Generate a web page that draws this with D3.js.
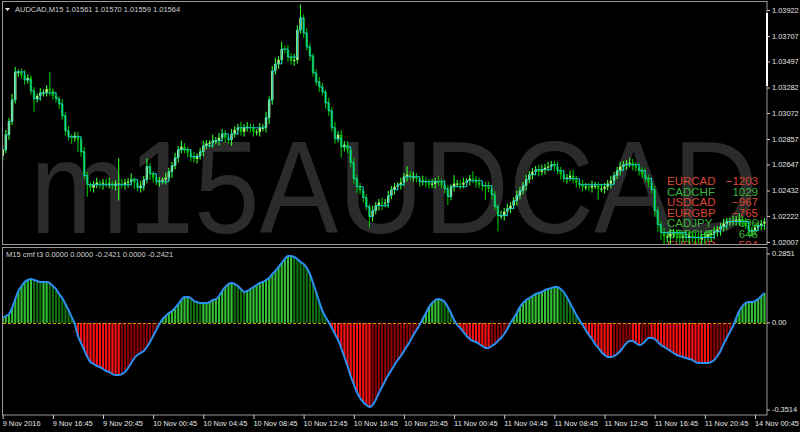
<!DOCTYPE html>
<html>
<head>
<meta charset="utf-8">
<style>
  body { margin: 0; background: #000; }
  svg { display: block; }
  text { font-family: 'Liberation Sans', Arial, sans-serif; }
</style>
<script src="https://cdn.jsdelivr.net/npm/d3@7"></script>
</head>
<body>
<div id="chart"></div>
<script>
// AUDCAD M15 bars, 9 Nov 12:45 .. 14 Nov 00:45+
const firstOpen = 1.0272
const closes = [
  1.02769, 1.02892, 1.03003, 1.03180, 1.03411, 1.03411, 1.03386, 1.03345, 1.03362, 1.03254,
  1.03189, 1.03213, 1.03238, 1.03238, 1.03271, 1.03254, 1.03213, 1.03189, 1.03147, 1.03049,
  1.02925, 1.02876, 1.02867, 1.02884, 1.02851, 1.02752, 1.02555, 1.02480, 1.02456, 1.02480,
  1.02497, 1.02489, 1.02497, 1.02489, 1.02489, 1.02472, 1.02489, 1.02489, 1.02480, 1.02497,
  1.02505, 1.02522, 1.02497, 1.02456, 1.02472, 1.02522, 1.02629, 1.02571, 1.02538, 1.02505,
  1.02513, 1.02522, 1.02538, 1.02587, 1.02637, 1.02703, 1.02769, 1.02793, 1.02769, 1.02744,
  1.02711, 1.02694, 1.02719, 1.02752, 1.02802, 1.02818, 1.02826, 1.02843, 1.02843, 1.02867,
  1.02900, 1.02867, 1.02851, 1.02900, 1.02933, 1.02950, 1.02917, 1.02950, 1.02958, 1.02950,
  1.02917, 1.02917, 1.02950, 1.02950, 1.03032, 1.03180, 1.03419, 1.03477, 1.03510, 1.03600,
  1.03592, 1.03534, 1.03502, 1.03510, 1.03757, 1.03856, 1.03732, 1.03617, 1.03543, 1.03403,
  1.03329, 1.03287, 1.03246, 1.03156, 1.03090, 1.02950, 1.02859, 1.02892, 1.02793, 1.02810,
  1.02769, 1.02662, 1.02530, 1.02464, 1.02431, 1.02373, 1.02299, 1.02217, 1.02266, 1.02307,
  1.02332, 1.02324, 1.02332, 1.02390, 1.02439, 1.02464, 1.02480, 1.02497, 1.02546, 1.02563,
  1.02546, 1.02546, 1.02530, 1.02505, 1.02513, 1.02497, 1.02480, 1.02489, 1.02505, 1.02497,
  1.02480, 1.02447, 1.02382, 1.02464, 1.02489, 1.02489, 1.02480, 1.02497, 1.02513, 1.02530,
  1.02522, 1.02497, 1.02480, 1.02472, 1.02464, 1.02447, 1.02398, 1.02299, 1.02225, 1.02225,
  1.02258, 1.02283, 1.02307, 1.02349, 1.02390, 1.02431, 1.02472, 1.02522, 1.02563, 1.02587,
  1.02604, 1.02587, 1.02604, 1.02620, 1.02629, 1.02645, 1.02629, 1.02596, 1.02563, 1.02530,
  1.02538, 1.02555, 1.02522, 1.02497, 1.02480, 1.02464, 1.02464, 1.02456, 1.02472, 1.02472,
  1.02447, 1.02447, 1.02464, 1.02489, 1.02513, 1.02555, 1.02596, 1.02629, 1.02645, 1.02653,
  1.02662, 1.02637, 1.02620, 1.02596, 1.02563, 1.02530, 1.02497, 1.02439, 1.02266, 1.02151,
  1.02085, 1.02052, 1.02052, 1.02077, 1.02085, 1.02069, 1.02052, 1.02052, 1.02044, 1.02060,
  1.02052, 1.02036, 1.02027, 1.02044, 1.02052, 1.02069, 1.02077, 1.02093, 1.02110, 1.02134,
  1.02159, 1.02176, 1.02176, 1.02184, 1.02192, 1.02192, 1.02176, 1.02143, 1.02102, 1.02102,
  1.02126, 1.02143, 1.02159, 1.02176
]
// wick lengths above / below the body, in pips
const upWicks = [
  3, 4, 3, 5, 4, 2, 3, 4, 3, 2,
  3, 2, 4, 3, 3, 14, 2, 3, 2, 4,
  3, 4, 2, 3, 3, 2, 4, 3, 2, 3,
  4, 2, 3, 3, 5, 2, 3, 21, 4, 3,
  3, 5, 2, 3, 4, 3, 7, 3, 2, 3,
  3, 2, 4, 3, 3, 4, 3, 5, 3, 2,
  3, 4, 2, 3, 4, 3, 2, 5, 3, 4,
  4, 3, 2, 4, 3, 3, 5, 3, 4, 3,
  3, 2, 4, 3, 5, 3, 4, 5, 3, 6,
  3, 4, 3, 5, 4, 11, 3, 4, 3, 2,
  3, 4, 3, 2, 4, 3, 5, 3, 4, 3,
  3, 2, 4, 3, 3, 2, 3, 2, 4, 3,
  3, 4, 3, 4, 3, 3, 2, 4, 3, 7,
  3, 4, 3, 2, 4, 3, 3, 4, 3, 5,
  3, 4, 3, 2, 7, 3, 3, 4, 2, 3,
  6, 3, 4, 3, 3, 4, 3, 3, 2, 4,
  3, 4, 3, 3, 4, 3, 3, 4, 3, 3,
  3, 4, 4, 3, 4, 3, 3, 4, 3, 3,
  3, 4, 5, 3, 3, 4, 3, 3, 4, 3,
  3, 4, 3, 3, 4, 3, 3, 4, 3, 3,
  4, 3, 3, 4, 3, 5, 3, 4, 3, 3,
  3, 4, 3, 4, 3, 3, 4, 3, 5, 3,
  3, 4, 5, 3, 4, 3, 3, 4, 3, 3,
  4, 3, 3, 4, 3, 5, 3, 3, 4, 3,
  3, 4, 3, 3
]
const downWicks = [
  4, 3, 4, 3, 3, 4, 3, 4, 3, 3,
  11, 3, 4, 3, 3, 4, 3, 3, 4, 3,
  4, 3, 5, 3, 10, 4, 3, 10, 3, 4,
  3, 4, 5, 3, 4, 3, 4, 14, 3, 4,
  4, 3, 5, 3, 4, 4, 3, 5, 4, 3,
  4, 3, 4, 3, 5, 3, 4, 3, 3, 4,
  4, 3, 4, 3, 4, 3, 3, 4, 3, 4,
  3, 4, 3, 5, 3, 4, 3, 4, 3, 4,
  4, 3, 4, 3, 4, 5, 4, 3, 4, 3,
  3, 4, 3, 4, 3, 3, 4, 3, 4, 3,
  3, 4, 3, 5, 4, 3, 4, 3, 9, 4,
  3, 4, 4, 5, 3, 4, 3, 9, 4, 3,
  4, 5, 3, 4, 3, 4, 3, 4, 3, 4,
  3, 4, 3, 4, 3, 4, 3, 3, 4, 3,
  3, 4, 7, 3, 4, 3, 4, 3, 3, 4,
  3, 4, 3, 4, 11, 3, 4, 3, 13, 3,
  4, 3, 4, 3, 4, 3, 3, 4, 3, 4,
  3, 4, 3, 4, 3, 3, 4, 3, 4, 3,
  4, 3, 3, 4, 3, 4, 3, 3, 4, 3,
  9, 3, 4, 3, 4, 3, 3, 4, 3, 4,
  3, 4, 3, 4, 3, 3, 4, 3, 5, 6,
  6, 8, 5, 7, 4, 6, 8, 5, 4, 6,
  5, 7, 4, 6, 5, 4, 6, 5, 4, 5,
  4, 5, 4, 3, 4, 5, 4, 3, 4, 5,
  4, 3, 4, 5
]
// cmf t3 oscillator, one value per bar
const cmf = [
  0.0189, 0.0266, 0.0343, 0.0575, 0.0922, 0.1231, 0.1424, 0.1578, 0.1655, 0.1694,
  0.1655, 0.1617, 0.1578, 0.1578, 0.1578, 0.1539, 0.1424, 0.1308, 0.1115, 0.0961,
  0.0729, 0.0498, 0.0228, -0.0042, -0.0505, -0.0775, -0.1046, -0.1316, -0.1508, -0.1586,
  -0.1663, -0.1701, -0.1779, -0.1856, -0.1894, -0.1971, -0.2010, -0.2010, -0.1971, -0.1894,
  -0.1740, -0.1547, -0.1354, -0.1238, -0.1161, -0.1084, -0.0930, -0.0737, -0.0505, -0.0274,
  -0.0042, 0.0150, 0.0266, 0.0382, 0.0459, 0.0575, 0.0729, 0.0883, 0.0999, 0.0999,
  0.0961, 0.0845, 0.0806, 0.0768, 0.0768, 0.0768, 0.0806, 0.0883, 0.0922, 0.1038,
  0.1231, 0.1385, 0.1501, 0.1539, 0.1501, 0.1424, 0.1308, 0.1192, 0.1231, 0.1308,
  0.1385, 0.1462, 0.1539, 0.1578, 0.1655, 0.1732, 0.1887, 0.2002, 0.2157, 0.2311,
  0.2465, 0.2581, 0.2581, 0.2542, 0.2465, 0.2350, 0.2272, 0.2118, 0.1887, 0.1539,
  0.1192, 0.0806, 0.0459, 0.0228, 0.0035, -0.0197, -0.0428, -0.0660, -0.0968, -0.1316,
  -0.1663, -0.2049, -0.2357, -0.2666, -0.2897, -0.3052, -0.3167, -0.3245, -0.3167, -0.2975,
  -0.2704, -0.2473, -0.2241, -0.2010, -0.1817, -0.1624, -0.1431, -0.1277, -0.1084, -0.0891,
  -0.0698, -0.0467, -0.0274, -0.0081, 0.0150, 0.0382, 0.0613, 0.0768, 0.0883, 0.0922,
  0.0883, 0.0806, 0.0613, 0.0382, 0.0112, -0.0081, -0.0197, -0.0351, -0.0505, -0.0621,
  -0.0698, -0.0737, -0.0814, -0.0891, -0.0968, -0.0968, -0.0891, -0.0814, -0.0698, -0.0583,
  -0.0428, -0.0235, -0.0004, 0.0189, 0.0382, 0.0613, 0.0768, 0.0883, 0.0961, 0.1038,
  0.1115, 0.1154, 0.1192, 0.1269, 0.1308, 0.1346, 0.1385, 0.1385, 0.1308, 0.1192,
  0.0999, 0.0768, 0.0536, 0.0305, 0.0112, -0.0081, -0.0274, -0.0467, -0.0621, -0.0814,
  -0.0968, -0.1123, -0.1238, -0.1316, -0.1316, -0.1277, -0.1200, -0.1084, -0.0930, -0.0775,
  -0.0698, -0.0698, -0.0775, -0.0853, -0.0814, -0.0698, -0.0583, -0.0583, -0.0621, -0.0737,
  -0.0853, -0.0930, -0.1007, -0.1084, -0.1161, -0.1238, -0.1277, -0.1316, -0.1354, -0.1393,
  -0.1431, -0.1508, -0.1547, -0.1547, -0.1547, -0.1547, -0.1508, -0.1431, -0.1277, -0.1084,
  -0.0814, -0.0583, -0.0351, -0.0120, 0.0189, 0.0459, 0.0652, 0.0768, 0.0806, 0.0806,
  0.0845, 0.0922, 0.1038, 0.1154
]
const timeLabels = [
  '9 Nov 2016', '9 Nov 16:45', '9 Nov 20:45', '10 Nov 00:45', '10 Nov 04:45',
  '10 Nov 08:45', '10 Nov 12:45', '10 Nov 16:45', '10 Nov 20:45', '11 Nov 00:45',
  '11 Nov 04:45', '11 Nov 08:45', '11 Nov 12:45', '11 Nov 16:45', '11 Nov 20:45',
  '14 Nov 00:45'
]
const priceTicks = [1.03922, 1.03707, 1.03497, 1.03282, 1.03072, 1.02857, 1.02647, 1.02432, 1.02222, 1.02007]
const cmfTicks = [0.2851, 0, -0.3514]
const watchPairs = ['EURCAD', 'CADCHF', 'USDCAD', 'EURGBP', 'CADJPY', 'GBPCHF', 'EURAUD']
const watchValues = [-1203, 1029, -967, -765, 696, 646, -594]

const width = 800
const height = 432
const pip = 0.0001

const svg = d3
  .select('#chart')
  .append('svg')
  .attr('width', width)
  .attr('height', height)
  .style('background', '#000')

// scales
const xPositionScale = d3.scaleLinear().domain([0, 240]).range([2.7, 755])
const yPriceScale = d3.scaleLinear().domain([1.02007, 1.03922]).range([242, 10])
const yCmfScale = d3.scaleLinear().domain([-0.3514, 0.2851]).range([414, 249])

const defs = svg.append('defs')
defs.append('clipPath').attr('id', 'clip-top')
  .append('rect').attr('x', 3).attr('y', 3).attr('width', 764).attr('height', 241)
defs.append('clipPath').attr('id', 'clip-bottom')
  .append('rect').attr('x', 3).attr('y', 248).attr('width', 764).attr('height', 167)

// ---------- upper panel ----------
const upperPanel = svg.append('g').attr('clip-path', 'url(#clip-top)')

upperPanel.append('text')
  .attr('x', 30)
  .attr('y', 233)
  .attr('font-size', 132)
  .attr('textLength', 728)
  .attr('lengthAdjust', 'spacingAndGlyphs')
  .attr('fill', '#2b2b2b')
  .text('m15AUDCAD')

const watch = upperPanel.append('g').attr('font-size', 11.5)
watchPairs.forEach(function(p, k) {
  const color = watchValues[k] < 0 ? '#dc4632' : '#3cb43c'
  const y = 185 + k * 10.6
  watch.append('text').attr('x', 667).attr('y', y).attr('fill', color).text(p)
  watch.append('text').attr('x', 758).attr('y', y).attr('text-anchor', 'end')
    .attr('fill', color).text(String(watchValues[k]).replace('-', '\u2212'))
})

const bars = closes.map(function(c, i) {
  const o = i === 0 ? firstOpen : closes[i - 1]
  return {
    i: i,
    open: o,
    close: c,
    high: Math.max(o, c) + upWicks[i] * pip,
    low: Math.min(o, c) - downWicks[i] * pip
  }
})

upperPanel.selectAll('.wick')
  .data(bars)
  .enter()
  .append('line')
  .attr('class', 'wick')
  .attr('x1', d => xPositionScale(d.i))
  .attr('x2', d => xPositionScale(d.i))
  .attr('y1', d => yPriceScale(d.high))
  .attr('y2', d => yPriceScale(d.low))
  .attr('stroke', d => (d.close >= d.open ? '#2eff2e' : '#00c000'))
  .attr('stroke-width', 1.1)

upperPanel.selectAll('.body')
  .data(bars)
  .enter()
  .append('rect')
  .attr('class', 'body')
  .attr('x', d => xPositionScale(d.i) - 1.2)
  .attr('width', 2.4)
  .attr('y', d => yPriceScale(Math.max(d.open, d.close)))
  .attr('height', d => Math.max(1, Math.abs(yPriceScale(d.open) - yPriceScale(d.close))))
  .attr('fill', d => (d.close >= d.open ? '#b8ff80' : '#00c000'))

// stepped line following the closes
let level = closes[0]
const stepLine = closes.map(function(c) {
  if (Math.abs(c - level) > 0.0004) level = c
  return level
})
upperPanel.append('path')
  .datum(stepLine)
  .attr('fill', 'none')
  .attr('stroke', '#14c8d2')
  .attr('stroke-width', 1)
  .attr('d', d3.line()
    .x((d, i) => xPositionScale(i))
    .y(d => yPriceScale(d))
    .curve(d3.curveStepAfter))

// ---------- lower panel ----------
const lowerPanel = svg.append('g').attr('clip-path', 'url(#clip-bottom)')

function barColor(v, i) {
  const prev = i === 0 ? v : cmf[i - 1]
  if (v >= 0) return v >= prev ? '#33c133' : '#10700f'
  return v <= prev ? '#ff1010' : '#8a0000'
}

lowerPanel.selectAll('.hist')
  .data(cmf)
  .enter()
  .append('rect')
  .attr('class', 'hist')
  .attr('x', (d, i) => xPositionScale(i) - 1)
  .attr('width', 2.1)
  .attr('y', d => yCmfScale(Math.max(0, d)))
  .attr('height', d => Math.abs(yCmfScale(d) - yCmfScale(0)))
  .attr('fill', barColor)

lowerPanel.append('line')
  .attr('x1', 3).attr('x2', 767)
  .attr('y1', Math.round(yCmfScale(0)) + 0.5)
  .attr('y2', Math.round(yCmfScale(0)) + 0.5)
  .attr('stroke', '#c8a000')
  .attr('stroke-dasharray', '3,2')

lowerPanel.append('path')
  .datum(cmf)
  .attr('fill', 'none')
  .attr('stroke', '#2a8ff0')
  .attr('stroke-width', 2)
  .attr('d', d3.line()
    .x((d, i) => xPositionScale(i))
    .y(d => yCmfScale(d))
    .curve(d3.curveMonotoneX))

// ---------- frames, axes, labels ----------
svg.append('rect').attr('x', 2.5).attr('y', 1.5).attr('width', 764.5).attr('height', 243)
  .attr('fill', 'none').attr('stroke', '#9a9a9a')
svg.append('rect').attr('x', 2.5).attr('y', 247.5).attr('width', 764.5).attr('height', 167.5)
  .attr('fill', 'none').attr('stroke', '#9a9a9a')
svg.append('line').attr('x1', 767).attr('x2', 767).attr('y1', 13).attr('y2', 86)
  .attr('stroke', '#ffffff').attr('stroke-width', 2)

const priceAxis = d3.axisRight(yPriceScale)
  .tickValues(priceTicks)
  .tickSize(3)
  .tickPadding(2)
  .tickFormat(d3.format('.5f'))
svg.append('g')
  .attr('class', 'axis price-axis')
  .attr('transform', 'translate(767,0)')
  .call(priceAxis)

const cmfAxis = d3.axisRight(yCmfScale)
  .tickValues(cmfTicks)
  .tickSize(3)
  .tickPadding(2)
  .tickFormat(d => (d === 0 ? '0.00' : d3.format('.4f')(d).replace('\u2212', '-')))
svg.append('g')
  .attr('class', 'axis cmf-axis')
  .attr('transform', 'translate(767,0)')
  .call(cmfAxis)
svg.selectAll('.cmf-axis .tick').attr('transform', function(d) {
  return 'translate(0,' + Math.min(410, Math.max(254, yCmfScale(d))) + ')'
})

const timeAxis = d3.axisBottom(xPositionScale)
  .tickValues(d3.range(0, 241, 16))
  .tickSize(4)
  .tickPadding(2)
  .tickFormat((d, k) => timeLabels[k])
svg.append('g')
  .attr('class', 'axis time-axis')
  .attr('transform', 'translate(0,415)')
  .call(timeAxis)
svg.selectAll('.time-axis text').attr('text-anchor', 'start').attr('dx', -0.5)

svg.selectAll('.axis path').attr('stroke', 'none')
svg.selectAll('.axis line').attr('stroke', '#c8c8c8')
svg.selectAll('.axis text')
  .attr('fill', '#e6e6e6')
  .attr('font-size', 7.4)
  .attr('font-family', "'Liberation Sans', Arial, sans-serif")

svg.append('path')
  .attr('d', 'M5,8 L10,8 L7.5,11 Z')
  .attr('fill', '#e6e6e6')
svg.append('text')
  .attr('x', 15).attr('y', 12)
  .attr('font-size', 7.5)
  .attr('fill', '#d2d2d2')
  .text('AUDCAD,M15  1.01561 1.01570 1.01559 1.01564')
svg.append('text')
  .attr('x', 6).attr('y', 257)
  .attr('font-size', 7.5)
  .attr('fill', '#d2d2d2')
  .text('M15 cmf t3  0.0000 0.0000 -0.2421 0.0000 -0.2421')
</script>
</body>
</html>
